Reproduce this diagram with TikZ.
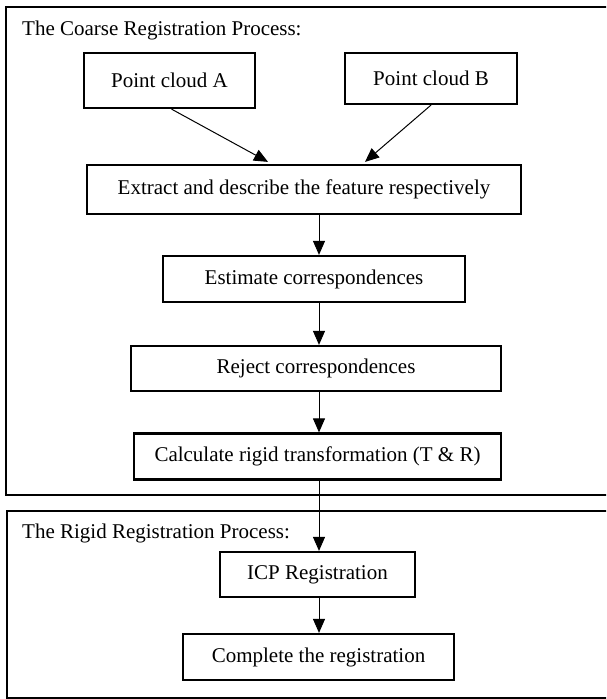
\documentclass[tikz,border=0pt]{standalone}
\usepackage{fontspec}
\setmainfont{Liberation Serif}
\usetikzlibrary{arrows.meta}

\begin{document}
\begin{tikzpicture}[x = 1pt, y = -1pt,
    stepbox/.style = {draw, line width = 2.2pt, inner sep = 0pt, font = \fontsize{21}{25}\selectfont},
    frame/.style = {line width = 2.6pt},
    title/.style = {anchor = base west, inner sep = 0pt, font = \fontsize{21}{25}\selectfont},
    flow/.style = {line width = 1pt, -{Triangle[length = 14pt, width = 12pt]}}]
    \useasboundingbox (0,0) rectangle (606,699);
    \clip (0,0) rectangle (606,699);

    % the two process frames
    \draw[frame] (6,7) rectangle (620,495);
    \draw[frame] (7,511) rectangle (620,698);
    \node[title] (coarse) at (22,35) {The Coarse Registration Process:};
    \node[title] (rigid) at (22,538) {The Rigid Registration Process:};

    % coarse registration
    \node[stepbox, minimum width = 171pt, minimum height = 55pt] (cloudA) at (169.5,80.5) {Point cloud A};
    \node[stepbox, minimum width = 172pt, minimum height = 51pt] (cloudB) at (431,78.5) {Point cloud B};
    \node[stepbox, minimum width = 434pt, minimum height = 49pt] (extract) at (304,189.5) {Extract and describe the feature respectively};
    \node[stepbox, minimum width = 302pt, minimum height = 46pt] (estimate) at (314,279) {Estimate correspondences};
    \node[stepbox, minimum width = 370pt, minimum height = 45pt] (reject) at (316,368.5) {Reject correspondences};
    \node[stepbox, minimum width = 367pt, minimum height = 46pt] (calc) at (317.5,456.5) {Calculate rigid transformation (T \& R)};

    % rigid registration
    \node[stepbox, minimum width = 195pt, minimum height = 45pt] (icp) at (317.5,574.5) {ICP Registration};
    \node[stepbox, minimum width = 271pt, minimum height = 46pt] (complete) at (318.5,657) {Complete the registration};

    \coordinate (spine) at (319,0);
    \draw[flow] ([xshift = 2pt]cloudA.south) -- ([xshift = -36pt, yshift = 2pt]extract.north);
    \draw[flow] (cloudB.south) -- ([xshift = 61pt, yshift = 2pt]extract.north);
    \draw[flow] (extract.south -| spine) -- (estimate.north -| spine);
    \draw[flow] (estimate.south -| spine) -- (reject.north -| spine);
    \draw[flow] (reject.south -| spine) -- (calc.north -| spine);
    \draw[flow] (calc.south -| spine) -- (icp.north -| spine);
    \draw[flow] (icp.south -| spine) -- (complete.north -| spine);

\end{tikzpicture}
\end{document}
